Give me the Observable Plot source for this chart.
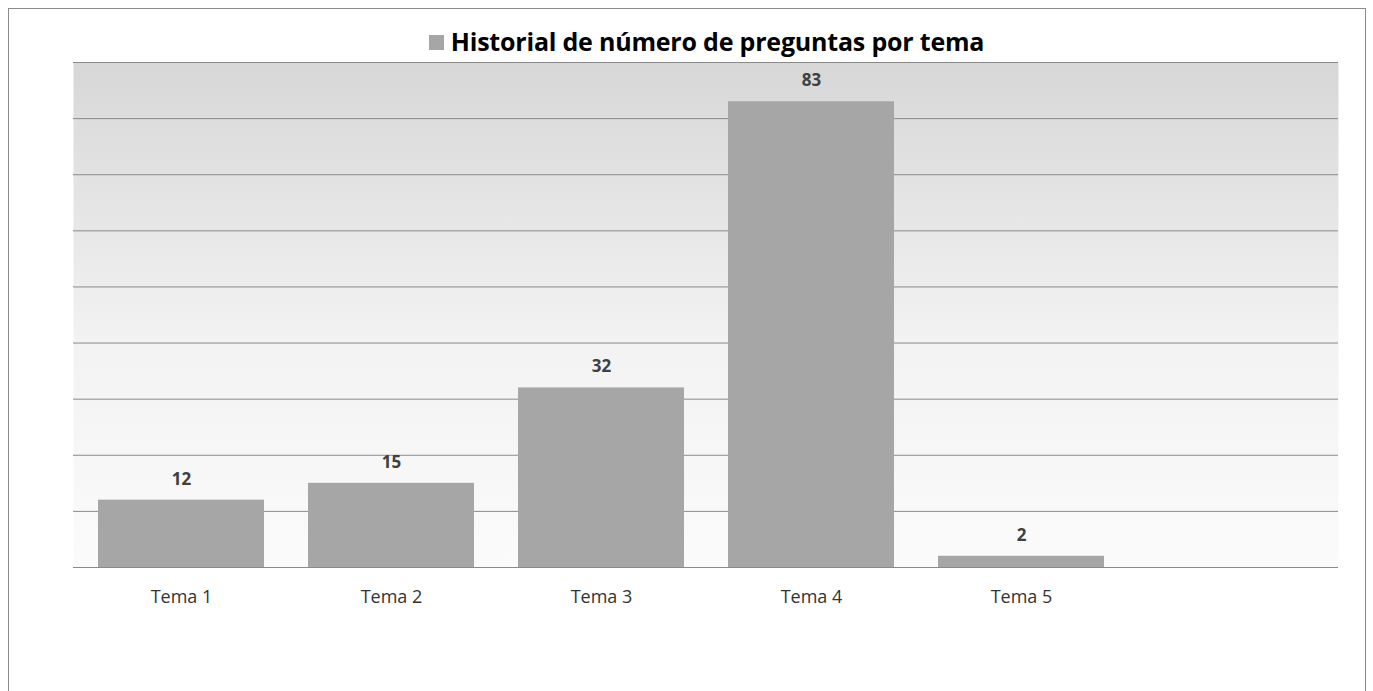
<!DOCTYPE html>
<html>
<head>
<meta charset="utf-8">
<script src="https://cdn.jsdelivr.net/npm/d3@7"></script>
<script src="https://cdn.jsdelivr.net/npm/@observablehq/plot@0.6"></script>
<style>
  html, body { margin: 0; padding: 0; background: #fff; }
  #wrap { position: relative; width: 1373px; height: 691px; overflow: hidden; font-family: "Open Sans", sans-serif; }
  #frame { position: absolute; left: 8px; top: 8px; width: 1358px; height: 700px; border: 1px solid #8c8c8c; box-sizing: border-box; }
  #title { position: absolute; left: 20px; width: 1373px; top: 24px; text-align: center; font-size: 25px; font-weight: bold; color: #000; letter-spacing: -0.2px; }
  #title .sw { display: inline-block; width: 15px; height: 15px; background: #a6a6a6; margin-right: 7px; vertical-align: 1px; }
  #chart { position: absolute; left: 0; top: 0; }
</style>
</head>
<body>
<div id="wrap">
  <div id="frame"></div>
  <div id="chart"></div>
  <div id="title"><span class="sw"></span>Historial de número de preguntas por tema</div>
</div>
<script>
const categories = ["Tema 1", "Tema 2", "Tema 3", "Tema 4", "Tema 5"];
const values = [12, 15, 32, 83, 2];
const slots = [...categories, ""]; // empty sixth category slot
const yTicks = [0, 10, 20, 30, 40, 50, 60, 70, 80, 90];

const data = categories.map((c, i) => ({ tema: c, n: values[i] }));

const chart = Plot.plot({
  width: 1373,
  height: 691,
  marginTop: 62,
  marginLeft: 73,
  marginRight: 35,
  marginBottom: 124,
  style: { background: "transparent", fontFamily: "Open Sans, sans-serif" },
  x: { domain: slots, paddingInner: 0.21, paddingOuter: 0.105, label: null },
  y: { domain: [0, 90], label: null, axis: null },
  marks: [
    Plot.frame({ fill: "url(#bgGrad)", stroke: null }),
    Plot.gridY(yTicks, { stroke: "#8a8a8a", strokeOpacity: 1, strokeWidth: 1 }),
    Plot.barY(data, { x: "tema", y: "n", fill: "#a6a6a6" }),
    Plot.ruleY([0], { stroke: "#8a8a8a", strokeWidth: 1.2 }),
    Plot.text(data, { x: "tema", y: "n", text: d => String(d.n), dy: -21, fontSize: 17, fontWeight: "bold", fill: "#404040" }),
    Plot.axisX({ tickSize: 0, tickPadding: 23, fontSize: 18, fill: "#333", tickFormat: d => d })
  ]
});

const svg = d3.select(chart);
const defs = svg.insert("defs", ":first-child");
const g = defs.append("linearGradient").attr("id", "bgGrad").attr("x1", 0).attr("y1", 0).attr("x2", 0).attr("y2", 1);
g.append("stop").attr("offset", "0%").attr("stop-color", "#d7d7d7");
g.append("stop").attr("offset", "55%").attr("stop-color", "#f2f2f2");
g.append("stop").attr("offset", "100%").attr("stop-color", "#fbfbfb");

document.getElementById("chart").appendChild(chart);
</script>
</body>
</html>
